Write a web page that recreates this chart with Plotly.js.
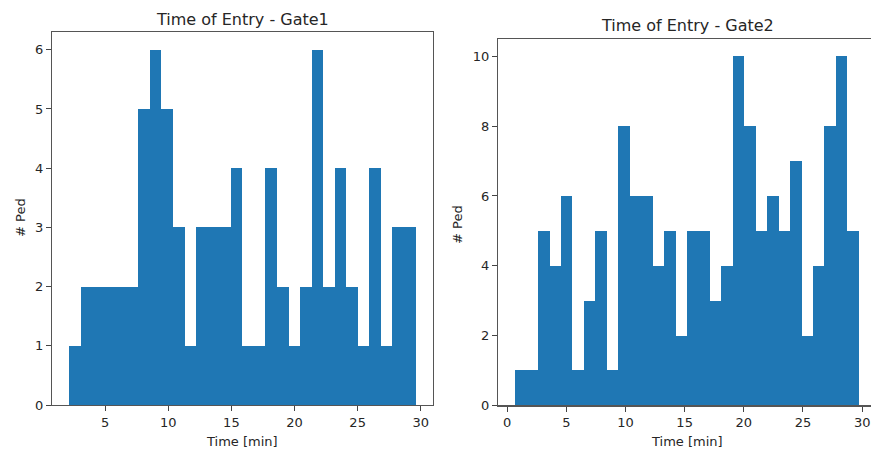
<!DOCTYPE html>
<html>
<head>
<meta charset="utf-8">
<script src="https://cdn.plot.ly/plotly-3.0.1.min.js"></script>
<style>
html, body { margin: 0; padding: 0; overflow: hidden; background: #fff; }
#chart { width: 876px; height: 450px; }
</style>
</head>
<body>
<div id="chart"></div>
<script>
// Gate1 histogram: 30 bins
const gate1BinStart = 2.14;
const gate1BinWidth = 0.915;
const gate1Counts = [1, 2, 2, 2, 2, 2, 5, 6, 5, 3, 1, 3, 3, 3, 4, 1, 1, 4, 2, 1, 2, 6, 2, 4, 2, 1, 4, 1, 3, 3];

// Gate2 histogram: 30 bins
const gate2BinStart = 0.68;
const gate2BinWidth = 0.968;
const gate2Counts = [1, 1, 5, 4, 6, 1, 3, 5, 1, 8, 6, 6, 4, 5, 2, 5, 5, 3, 4, 10, 8, 5, 6, 5, 7, 2, 4, 8, 10, 5];

const titles = ["Time of Entry - Gate1", "Time of Entry - Gate2"];
const xLabel = "Time [min]";
const yLabel = "# Ped";

function centers(start, width, n) {
  const c = [];
  for (let i = 0; i < n; i++) c.push(start + width * (i + 0.5));
  return c;
}

const barColor = "#1f77b4";
const font = { family: "DejaVu Sans, sans-serif", size: 13, color: "#262626" };

const traces = [
  {
    type: "bar",
    x: centers(gate1BinStart, gate1BinWidth, gate1Counts.length),
    y: gate1Counts,
    width: gate1BinWidth,
    marker: { color: barColor, line: { width: 0 } },
    xaxis: "x", yaxis: "y",
    hoverinfo: "x+y"
  },
  {
    type: "bar",
    x: centers(gate2BinStart, gate2BinWidth, gate2Counts.length),
    y: gate2Counts,
    width: gate2BinWidth,
    marker: { color: barColor, line: { width: 0 } },
    xaxis: "x2", yaxis: "y2",
    hoverinfo: "x+y"
  }
];

const W = 876, H = 450;
function axisCommon() {
  return {
    showgrid: false, zeroline: false,
    showline: true, linecolor: "#555", linewidth: 1.2, mirror: true,
    ticks: "outside", ticklen: 5, tickwidth: 1, tickcolor: "#444",
    tickfont: font, automargin: false
  };
}

function ann(text, px, py, f, angle) {
  return {
    text: text, x: px / W, y: 1 - py / H, xref: "paper", yref: "paper",
    xanchor: "center", yanchor: "middle", showarrow: false,
    textangle: angle || 0, font: f
  };
}
const titleFont = { family: font.family, size: 16, color: "#262626" };

const layout = {
  width: W, height: H,
  margin: { l: 0, r: 0, t: 0, b: 0 },
  paper_bgcolor: "#fff", plot_bgcolor: "#fff",
  showlegend: false,
  bargap: 0,
  font: font,
  xaxis: Object.assign(axisCommon(), {
    domain: [52 / W, 433 / W], range: [0.79, 30.97],
    tickvals: [5, 10, 15, 20, 25, 30], anchor: "y"
  }),
  yaxis: Object.assign(axisCommon(), {
    domain: [45 / H, 418 / H], range: [0, 6.3],
    tickvals: [0, 1, 2, 3, 4, 5, 6], anchor: "x"
  }),
  xaxis2: Object.assign(axisCommon(), {
    domain: [498 / W, 1], range: [-0.77, 31.17],
    tickvals: [0, 5, 10, 15, 20, 25, 30], anchor: "y2"
  }),
  yaxis2: Object.assign(axisCommon(), {
    domain: [44.7 / H, 411 / H], range: [0, 10.5],
    tickvals: [0, 2, 4, 6, 8, 10], anchor: "x2", mirror: false
  }),
  annotations: [
    ann(titles[0], 242.5, 19, titleFont),
    ann(titles[1], 687, 25, titleFont),
    ann(xLabel, 242.5, 441, font),
    ann(xLabel, 687, 441, font),
    ann(yLabel, 20, 218, font, -90),
    ann(yLabel, 457, 225, font, -90)
  ]
};

Plotly.newPlot("chart", traces, layout, { displayModeBar: false, staticPlot: true });
</script>
</body>
</html>
